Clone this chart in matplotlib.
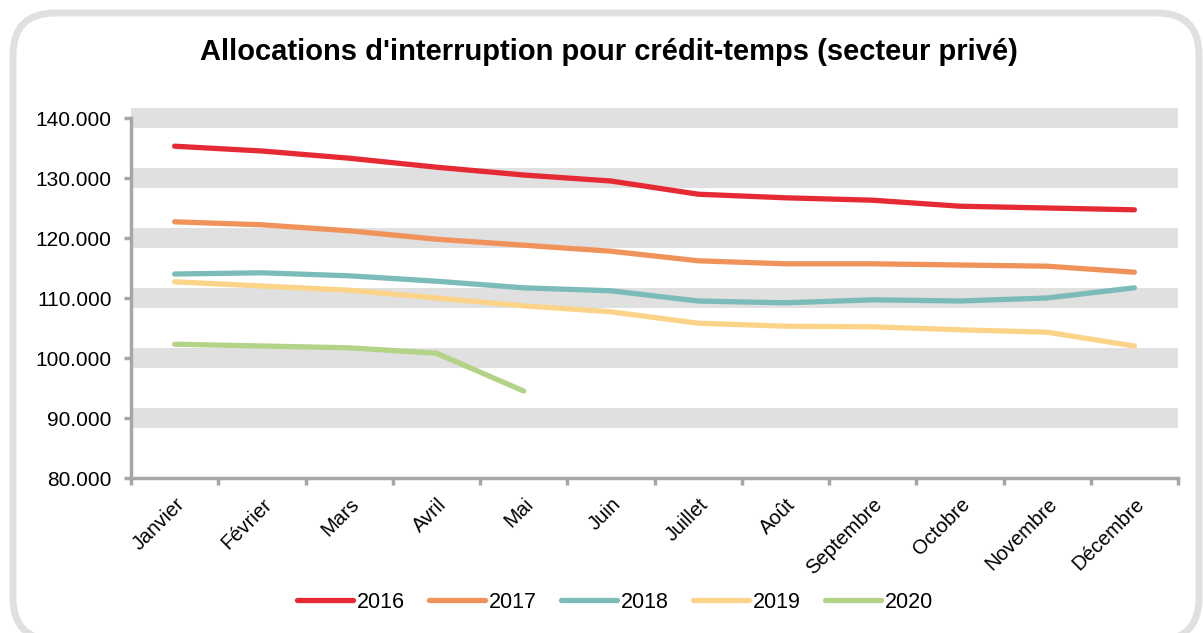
import numpy as np
import matplotlib.pyplot as plt
from matplotlib.patches import FancyBboxPatch
from matplotlib.lines import Line2D

plt.rcParams['font.family'] = ['Liberation Sans', 'DejaVu Sans']

months = ['Janvier', 'Février', 'Mars', 'Avril', 'Mai', 'Juin', 'Juillet',
          'Août', 'Septembre', 'Octobre', 'Novembre', 'Décembre']

y2016 = [135300, 134500, 133300, 131800, 130500, 129500, 127300, 126700, 126300, 125300, 125000, 124700]
y2017 = [122700, 122200, 121200, 119800, 118800, 117800, 116200, 115700, 115700, 115500, 115300, 114300]
y2018 = [114000, 114200, 113700, 112800, 111700, 111200, 109500, 109200, 109700, 109500, 110000, 111700]
y2019 = [112700, 112000, 111300, 110000, 108700, 107700, 105800, 105300, 105200, 104700, 104300, 102000]
y2020 = [102300, 102000, 101700, 100800, 94500]

series = [('2016', y2016, '#E52A33'),
          ('2017', y2017, '#EF935B'),
          ('2018', y2018, '#7BBCB9'),
          ('2019', y2019, '#FBD48A'),
          ('2020', y2020, '#B3D387')]

yticks = [80000, 90000, 100000, 110000, 120000, 130000, 140000]

fig = plt.figure(figsize=(12.03, 6.33), dpi=100)

# rounded frame around the whole chart
frame = FancyBboxPatch((13 / 1203, 1 - 640 / 633), (1199 - 13) / 1203, (640 - 13) / 633,
                       boxstyle='round,pad=0,rounding_size=0.035', transform=fig.transFigure,
                       facecolor='none', edgecolor='#E0E0E0', linewidth=5, zorder=-1,
                       mutation_aspect=1203 / 633)
fig.patches.append(frame)

ax = fig.add_axes([131 / 1203, 1 - 478 / 633, (1178 - 131) / 1203, (478 - 108) / 633])
ax.set_facecolor('none')

# gray bands centred on each gridline
for v in yticks[1:]:
    ax.axhspan(v - 1667, v + 1667, color='#E0E0E0', lw=0, zorder=0)

x = np.arange(len(months))
for name, vals, col in series:
    ax.plot(x[:len(vals)], vals, color=col, lw=3.8, solid_capstyle='round', label=name, zorder=3)

ax.set_xlim(-0.5, len(months) - 0.5)
ax.set_ylim(80000, 141667)

ax.set_yticks(yticks)
ax.set_yticklabels([f'{v:,}'.replace(',', '.') for v in yticks], fontsize=15)
ax.set_xticks(x)
ax.set_xticklabels(months, rotation=45, ha='right', va='top', rotation_mode='anchor', fontsize=14.5)
ax.set_xticks(np.arange(-0.5, len(months)), minor=True)
ax.tick_params(axis='x', which='major', length=0, pad=12)
ax.tick_params(axis='x', which='minor', length=5, width=2.5, color='#A6A6A6')
ax.tick_params(axis='y', length=5, width=2.5, color='#A6A6A6', pad=9)

for s in ['top', 'right']:
    ax.spines[s].set_visible(False)
for s in ['left', 'bottom']:
    ax.spines[s].set_color('#A6A6A6')
    ax.spines[s].set_linewidth(2.5)
ax.spines['left'].set_bounds(80000, 140000)

fig.text(609 / 1203, 1 - 52 / 633, "Allocations d'interruption pour crédit-temps (secteur privé)",
         ha='center', va='center', fontsize=21, fontweight='bold')

handles = [Line2D([0], [0], color=c, lw=3.8, solid_capstyle='round') for _, _, c in series]
fig.legend(handles, [n for n, _, _ in series], loc='center', bbox_to_anchor=(615 / 1203, 1 - 602 / 633),
           ncol=5, frameon=False, fontsize=15.5, handlelength=2.6, handletextpad=0.2, columnspacing=1.1)

fig.savefig('out.png', dpi=100)
